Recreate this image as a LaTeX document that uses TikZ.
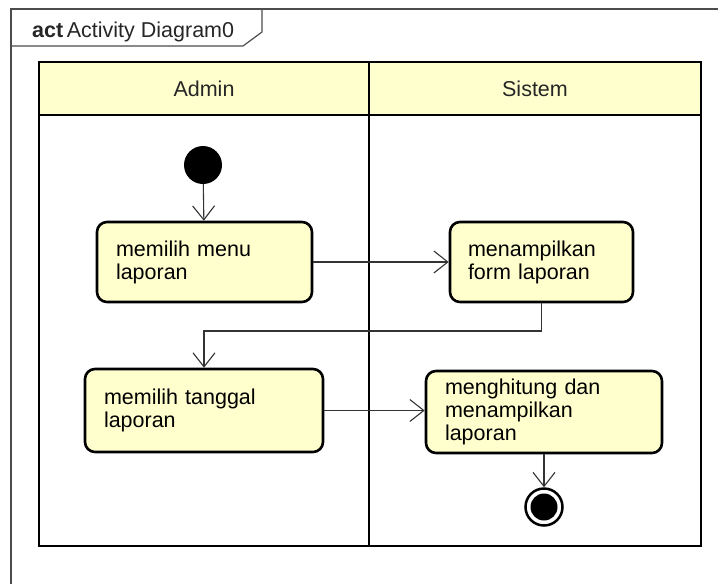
\documentclass[tikz,border=0pt]{standalone}
\usepackage{fontspec}
\setmainfont{Liberation Sans}
\usetikzlibrary{arrows.meta}
\definecolor{fillY}{RGB}{255,255,206}
\begin{document}
\begin{tikzpicture}[x=1pt,y=-1pt,
  act/.style={draw=black, line width=2.6pt, rounded corners=10pt, fill=fillY, inner sep=0pt, align=left, font=\fontsize{21.5}{23}\selectfont},
  flow/.style={line width=1.1pt, draw=black!80, -{Straight Barb[length=14pt,width=22pt,line width=1.1pt]}},
  lane/.style={draw=black, line width=2.6pt},
  lanelabel/.style={font=\fontsize{21.5}{24}\selectfont, text=black!85},
  frameline/.style={line width=1.2pt, draw=black!70},
]
\useasboundingbox (0,0) rectangle (718,584);
% outer frame
\draw[frameline] (718,9) -- (11,9) -- (11,584);
\draw[frameline] (11,46) -- (243,46) -- (262,32) -- (262,9);
\node[anchor=base west, inner sep=0pt, font=\fontsize{21.5}{24}\selectfont, text=black!85] (title) at (32,37) {\textbf{act}\,Activity Diagram0};
% swimlanes
\fill[fillY] (39,62) rectangle (701,115);
\draw[lane] (39,62) rectangle (701,546);
\draw[lane] (39,115) -- (701,115);
\draw[lane] (369,62) -- (369,546);
\node[lanelabel] (admin) at (204,89) {Admin};
\node[lanelabel] (sistem) at (535,89) {Sistem};
% nodes
\node[circle, fill=black, minimum size=38pt, inner sep=0pt] (start) at (203,165) {};
\node[act, minimum width=215, minimum height=80, text width=177] (a1) at (204.5,262) {memilih menu\\laporan};
\node[act, minimum width=183, minimum height=80, text width=147] (a2) at (541.5,262) {menampilkan\\form laporan};
\node[act, minimum width=238, minimum height=83, text width=200] (a3) at (204,410.5) {memilih tanggal\\laporan};
\node[act, minimum width=236, minimum height=82, text width=198] (a4) at (544,412) {menghitung dan\\menampilkan\\laporan};
\node[circle, draw=black, line width=2.5pt, fill=white, minimum size=37pt, inner sep=0pt] (end) at (544,507) {};
\node[circle, fill=black, minimum size=27pt, inner sep=0pt] (endin) at (end.center) {};
\coordinate (bend) at (540,331);
% connectors
\draw[flow] (start) -- (a1);
\draw[flow] (a1.east) -- (a2.west |- a1.east);
\draw[flow] (a2.south) -- (a2.south |- bend) -| (a3.north);
\draw[flow] (a3.east) -- (a4.west |- a3.east);
\draw[flow] (a4) -- (end);
\end{tikzpicture}
\end{document}
